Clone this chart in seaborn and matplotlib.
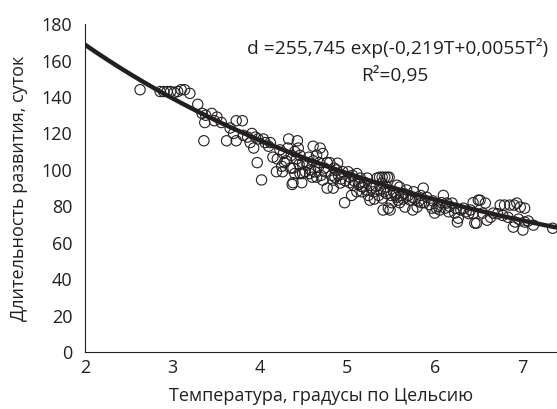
import matplotlib
matplotlib.use("Agg")
import matplotlib.pyplot as plt
import seaborn as sns
import numpy as np
import pandas as pd

# ---- data ----
temperature = [
    2.63, 2.86, 2.90, 2.94, 2.98, 3.02, 3.06, 3.10, 3.14, 3.20, 3.29, 3.34, 3.37, 3.36, 3.38,
    3.45, 3.51, 3.48, 3.56, 3.62, 3.66, 3.73, 3.80, 3.73, 3.70, 3.81, 3.86, 3.91, 3.89, 3.95, 3.98, 3.97, 3.93,
    4.02, 4.04, 4.06, 4.10, 4.12, 4.15, 4.19, 4.23, 4.26, 4.27, 4.30, 4.32, 4.33, 4.35, 4.37, 4.38, 4.38,
    4.40, 4.43, 4.44, 4.46, 4.46, 4.48, 4.49, 4.49, 4.42, 4.36, 4.28, 4.20, 4.25, 4.45, 4.40,
    4.54, 4.54, 4.57, 4.61, 4.61, 4.65, 4.67, 4.69, 4.72, 4.72, 4.77, 4.77, 4.80, 4.84, 4.84, 4.88, 4.89,
    4.92, 4.95, 4.97, 4.58, 4.63, 4.70, 4.75, 4.82, 4.86, 4.90, 4.93, 4.60, 4.68, 4.74, 4.52, 4.56, 4.65,
    4.85, 4.98,
    5.01, 5.03, 5.05, 5.07, 5.11, 5.11, 5.15, 5.17, 5.18, 5.23, 5.26, 5.26, 5.34, 5.37, 5.40, 5.43, 5.46,
    5.48, 5.40, 5.45, 5.41, 5.47, 5.51, 5.40, 5.45, 5.49, 5.03, 5.08, 5.13, 5.20, 5.22, 5.28, 5.30, 5.33,
    5.36, 5.38, 5.31, 5.06, 5.16, 5.24, 5.42, 5.50,
    5.57, 5.57, 5.60, 5.58, 5.68, 5.72, 5.66, 5.80, 5.75, 5.87, 5.91, 5.97, 5.53, 5.55, 5.62, 5.64, 5.70,
    5.74, 5.78, 5.82, 5.85, 5.88, 5.94, 5.98, 5.65, 5.76, 5.84, 5.60,
    6.00, 6.04, 6.08, 6.10, 6.14, 6.20, 6.23, 6.27, 6.26, 6.33, 6.41, 6.44, 6.50, 6.46, 6.48, 6.02, 6.06,
    6.12, 6.17, 6.24, 6.30, 6.36, 6.39, 6.44, 6.16,
    6.52, 6.58, 6.55, 6.60, 6.67, 6.72, 6.75, 6.80, 6.86, 6.91, 6.94, 6.98, 7.03, 6.90, 6.92, 7.01, 7.03,
    7.13, 7.35, 6.84, 6.96, 7.07, 6.78, 6.64,
]
duration = [
    144, 143, 143, 143, 143, 142.5, 143, 144, 144, 142, 136, 131, 126, 116, 130,
    131, 129, 127, 126, 116, 123, 127, 127, 116, 120, 119, 118, 120, 115, 118, 117, 104, 112,
    94.5, 117, 115, 113, 115, 107, 99, 111, 99, 109, 105, 112, 117, 101, 92, 101, 93,
    110, 116, 112, 108, 98, 93, 104, 98, 106, 108, 104, 106, 102, 103, 98,
    104, 102.6, 98, 113, 105, 96, 101.5, 112, 109, 94.4, 104, 90, 104, 90, 94.4, 100, 103.7,
    92.8, 99, 82, 100, 99, 97, 99, 97, 96, 97, 95, 96, 104, 101, 99, 107, 108,
    101, 94,
    99, 96, 86, 91.6, 98, 88, 95.5, 88, 90.6, 95.5, 83.4, 91.6, 95.5, 96, 96, 96, 96,
    96, 84.5, 87, 78, 79, 82, 92.8, 90.6, 78, 93, 94, 92, 93, 89, 90, 88, 91,
    86, 89, 84, 97, 91, 86, 88, 86,
    91.6, 85, 90.6, 83.4, 89, 83.4, 79.6, 79.6, 78, 90, 85, 79, 88, 86, 86, 84, 86,
    85, 84, 83, 82, 82, 81, 83, 87, 88, 86, 82,
    76.3, 80, 82, 86, 81.8, 81.8, 76.3, 73.5, 71.4, 79, 78, 82, 83.4, 70.8, 70.8, 79, 78,
    79, 80, 79, 78, 77, 76, 76, 77,
    83.4, 81.8, 76.3, 72.4, 76.3, 76, 80.7, 80.7, 80.7, 80.7, 81.8, 79.6, 79, 68.6, 71.4, 67, 71.4,
    69.7, 68, 74, 73, 72, 75, 74,
]

# fitted model shown on the chart: d = a * exp(b*T + c*T^2)
fit_a, fit_b, fit_c = 255.745, -0.219, 0.0055
equation_text = "d =255,745 exp(-0,219T+0,0055T²)"
r2_text = "R²=0,95"

x_ticks = [2, 3, 4, 5, 6, 7]
y_ticks = [0, 20, 40, 60, 80, 100, 120, 140, 160, 180]
x_label = "Температура, градусы по Цельсию"
y_label = "Длительность развития, суток"

# ---- plot ----
sns.set_style("white")
plt.rcParams["font.family"] = ["Open Sans", "DejaVu Sans"]
ink = "#231f20"
fs = 13

df = pd.DataFrame({"T": temperature, "d": duration})
t_grid = np.linspace(2, 7.4, 200)
fit_df = pd.DataFrame({"T": t_grid, "d": fit_a * np.exp(fit_b * t_grid + fit_c * t_grid ** 2)})

fig = plt.figure(figsize=(5.57, 4.09), dpi=100)
ax = fig.add_axes([0.1526, 0.139, 0.8474, 0.802])

sns.scatterplot(data=df, x="T", y="d", ax=ax, marker="o", s=55,
                facecolor="none", edgecolor=ink, linewidth=0.8, zorder=2, clip_on=False)
sns.lineplot(data=fit_df, x="T", y="d", ax=ax, color=ink, linewidth=3.2, zorder=3)

ax.set_xlim(2, 7.4)
ax.set_ylim(0, 180)
ax.set_xticks(x_ticks)
ax.set_yticks(y_ticks)
ax.set_xlabel(x_label, fontsize=fs, color=ink, labelpad=7)
ax.set_ylabel(y_label, fontsize=fs, color=ink, labelpad=10)
ax.tick_params(axis="x", direction="in", length=4, width=0.8, labelsize=fs, colors=ink, pad=5)
ax.tick_params(axis="y", direction="out", length=4, width=0.8, labelsize=fs, colors=ink, pad=5)
for s in ["top", "right"]:
    ax.spines[s].set_visible(False)
for s in ["left", "bottom"]:
    ax.spines[s].set_color(ink)
    ax.spines[s].set_linewidth(0.8)

ax.text(5.58, 167, equation_text, ha="center", va="center", fontsize=13.8, color=ink)
ax.text(5.55, 151.5, r2_text, ha="center", va="center", fontsize=13.8, color=ink)

fig.savefig("out.png", dpi=100)
